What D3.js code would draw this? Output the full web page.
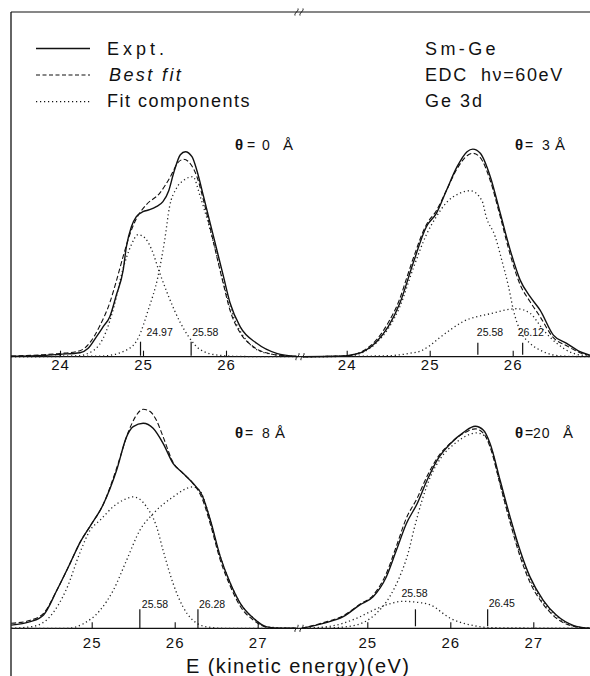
<!DOCTYPE html>
<html>
<head>
    <title>Sm-Ge Ge 3d EDC</title>
    <script type="text/javascript" src="https://cdn.jsdelivr.net/npm/d3@7"></script>
    <meta charset="utf-8" />
    <style>
        body { margin: 0; background: #fff; }
        text { font-family: "Liberation Sans", Arial, sans-serif; fill: #111; }
    </style>
</head>
<body>
    <svg width="590" height="676"></svg>
    <script>

        // curves: [kinetic energy (eV), intensity (arb.)]
        var expt0 = [[23.41,0.2],[23.8,0.6],[24.0,1.2],[24.24,2],[24.34,4.2],[24.44,10],[24.52,15],[24.6,20],[24.68,31],[24.76,43],[24.8,55],[24.86,65],[24.92,70],[25.0,72.5],[25.08,73.5],[25.16,75],[25.24,77.5],[25.31,83],[25.37,92],[25.45,101],[25.51,102.5],[25.59,100],[25.65,93],[25.73,80],[25.85,60],[25.97,40],[26.05,26.7],[26.17,15],[26.37,6.7],[26.61,1.7],[26.85,0.2]];
        var fit0 = [[23.41,0.3],[23.8,1],[24.0,1.6],[24.24,3],[24.36,7],[24.48,15.5],[24.6,27],[24.68,38],[24.76,50],[24.84,61],[24.92,69],[25.04,76],[25.2,81.7],[25.33,90],[25.42,97],[25.49,98.7],[25.56,97],[25.65,90],[25.73,78],[25.85,57],[25.97,36],[26.05,23],[26.17,12],[26.33,5],[26.55,1.3],[26.85,0.1]];
        var peakA0 = [[23.41,0],[24.2,0.4],[24.4,3],[24.55,12],[24.65,25],[24.76,44],[24.86,56],[24.94,61],[25.02,59.5],[25.1,54],[25.2,42],[25.3,31],[25.45,17],[25.55,10],[25.69,3.5],[25.9,0.8],[26.2,0.1],[26.85,0]];
        var peakB0 = [[23.41,0],[24.5,0.3],[24.8,3.3],[24.95,10],[25.06,23],[25.18,40],[25.26,58],[25.32,75],[25.4,84],[25.5,88.5],[25.6,90],[25.69,80],[25.85,57],[25.97,37],[26.09,20],[26.25,8],[26.49,1.7],[26.85,0]];

        var expt3 = [[23.47,0],[23.9,0.2],[24.0,0.5],[24.2,2.5],[24.36,7.5],[24.5,15],[24.64,26.7],[24.8,46.7],[24.96,65],[25.08,71.7],[25.2,83],[25.33,95],[25.45,102.5],[25.52,103.8],[25.61,101.7],[25.73,90],[25.85,71.7],[25.97,53.3],[26.09,38.3],[26.21,30],[26.33,23.3],[26.49,10.8],[26.65,6.7],[26.81,2.5],[26.93,0.8]];
        var fit3 = [[23.47,0],[24.0,0.5],[24.2,3],[24.36,8.5],[24.5,17],[24.64,29],[24.72,39],[24.8,49],[24.96,66],[25.08,73],[25.2,83],[25.33,94],[25.45,100.5],[25.52,101.7],[25.61,99.5],[25.73,88],[25.85,70],[25.97,51],[26.09,36],[26.21,27.5],[26.33,20],[26.49,9.5],[26.65,5.5],[26.81,2],[26.93,0.6]];
        var peakA3 = [[23.47,0],[24.0,0.3],[24.2,2.3],[24.36,7],[24.5,14],[24.64,25],[24.8,44],[24.96,61],[25.08,70],[25.2,77],[25.35,81.5],[25.49,83],[25.63,78],[25.68,70],[25.79,60],[25.87,48],[25.95,35],[26.01,23],[26.09,13],[26.21,6.7],[26.37,2.5],[26.6,0.3],[26.93,0]];
        var peakB3 = [[23.47,0],[24.5,0.5],[24.76,1.7],[24.9,3],[25.0,5.5],[25.12,9.5],[25.25,13.5],[25.4,17.5],[25.73,21.5],[26.05,24],[26.21,21.7],[26.37,13.3],[26.53,6.7],[26.73,1.7],[26.93,0.3]];

        var expt8 = [[24.03,1.6],[24.26,3.3],[24.42,6.7],[24.58,19],[24.74,32.5],[24.86,43],[24.98,51],[25.14,62],[25.3,79],[25.42,95.7],[25.5,100.8],[25.62,102.5],[25.74,100],[25.86,92.5],[25.98,82.5],[26.1,77.5],[26.22,72.5],[26.33,66.5],[26.43,54],[26.55,35.7],[26.67,22.5],[26.79,12.5],[26.95,5],[27.11,0.7],[27.27,0],[27.46,0]];
        var fit8 = [[24.03,2.5],[24.26,4],[24.42,7.5],[24.58,19],[24.74,32.5],[24.86,43],[24.98,51],[25.14,62],[25.3,80],[25.44,98],[25.53,106],[25.62,109.5],[25.7,108.5],[25.78,104],[25.86,95.8],[25.98,83],[26.1,77.5],[26.22,72.5],[26.33,65],[26.43,52],[26.55,34],[26.67,21],[26.79,11],[26.95,4],[27.11,0.5],[27.27,0],[27.46,0]];
        var peakA8 = [[24.03,0],[24.3,1],[24.5,6],[24.7,20],[24.86,38],[24.98,49],[25.1,54],[25.26,60.8],[25.4,64.5],[25.5,65.7],[25.58,64.5],[25.66,60.8],[25.78,51],[25.86,39],[25.98,22.5],[26.1,10.7],[26.22,4],[26.39,0.7],[26.6,0],[27.46,0]];
        var peakB8 = [[24.03,0],[24.7,0],[24.9,2.3],[25.1,9],[25.26,19],[25.42,34],[25.58,49],[25.74,57.3],[25.98,65.7],[26.22,70.7],[26.3,69],[26.43,54],[26.55,35.7],[26.67,22.5],[26.79,12.5],[26.95,5],[27.11,0.7],[27.46,0]];

        var expt20 = [[24.21,0],[24.47,2.5],[24.71,5.8],[24.91,11.7],[25.07,15.8],[25.23,25.8],[25.35,39],[25.47,52.3],[25.6,62.3],[25.72,74],[25.84,84],[26.0,92.3],[26.16,98],[26.3,101],[26.4,99],[26.48,92.3],[26.6,74],[26.72,55.7],[26.84,39],[26.96,25.7],[27.12,14],[27.28,6.5],[27.48,1.5],[27.68,0]];
        var fit20 = [[24.21,0],[24.47,2.8],[24.71,6.3],[24.91,12],[25.07,16.5],[25.23,27.5],[25.35,41],[25.47,55],[25.6,65],[25.72,76],[25.84,85],[26.0,92.5],[26.16,97.5],[26.3,99.7],[26.4,97.5],[26.48,90.5],[26.6,72],[26.72,53],[26.84,36],[26.96,23],[27.12,12],[27.28,5],[27.48,1],[27.68,0]];
        var peakA20 = [[24.21,0],[24.6,0.3],[24.87,1.7],[25.11,7.5],[25.27,15.8],[25.39,25.8],[25.49,37.3],[25.57,50.7],[25.66,64],[25.76,75.7],[25.88,84.8],[26.08,93.2],[26.32,97.7],[26.42,96],[26.5,89],[26.6,72],[26.72,54],[26.84,37.5],[26.96,24.5],[27.12,13],[27.28,6],[27.48,1.2],[27.68,0]];
        var peakB20 = [[24.21,0],[24.55,1],[24.87,5],[25.07,9],[25.25,12],[25.43,13.5],[25.6,13],[25.76,11.7],[26.0,5],[26.24,1.7],[26.5,0.3],[27.68,0]];

        var thetas = ["0", "3", "8", "20"];
        var ticksTop = [24, 25, 26];
        var ticksBottom = [25, 26, 27];
        var peaks0 = [24.97, 25.58];
        var peaks3 = [25.58, 26.12];
        var peaks8 = [25.58, 26.28];
        var peaks20 = [25.58, 26.45];

        var svg = d3.select("svg");

        // layout of the four panels (pixel positions only)
        var panels = [
            { theta: thetas[0], expt: expt0, fit: fit0, comps: [peakA0, peakB0], ticks: ticksTop, peaks: peaks0,
              clip: [11, 297], e: [24, 26], px: [60, 226], base: 356.7, pad: 2.5, mark: [-15, -1],
              lab: [[6, -21], [1, -21]], th: [235, 12, 27, 48, 150] },
            { theta: thetas[1], expt: expt3, fit: fit3, comps: [peakA3, peakB3], ticks: ticksTop, peaks: peaks3,
              clip: [303, 590], e: [24, 26], px: [346.7, 512.7], base: 356.7, pad: 2.5, mark: [-14, -2],
              lab: [[-1, -21], [-5, -21]], th: [515, 10, 27, 40, 150] },
            { theta: thetas[2], expt: expt8, fit: fit8, comps: [peakA8, peakB8], ticks: ticksBottom, peaks: peaks8,
              clip: [11, 296], e: [25, 27], px: [91.7, 257.7], base: 628.3, pad: 9.5, mark: [-19, 0],
              lab: [[2, -20], [1, -20]], th: [235, 10, 27, 40, 438] },
            { theta: thetas[3], expt: expt20, fit: fit20, comps: [peakA20, peakB20], ticks: ticksBottom, peaks: peaks20,
              clip: [302, 590], e: [25, 27], px: [367.3, 533.3], base: 628.3, pad: 9.5, mark: [-19, -2],
              lab: [[-14, -31], [1, -21]], th: [515, 10, 18, 48, 438] }
        ];

        // frame
        svg.append("line").attr("x1", 11).attr("y1", 12).attr("x2", 11).attr("y2", 676)
            .attr("stroke", "#111").attr("stroke-width", 1.3);
        svg.append("line").attr("x1", 11).attr("y1", 12).attr("x2", 590).attr("y2", 12)
            .attr("stroke", "#111").attr("stroke-width", 1.1);
        [356.7, 628.3].forEach(function (y) {
            svg.append("line").attr("x1", 11).attr("y1", y).attr("x2", 590).attr("y2", y)
                .attr("stroke", "#111").attr("stroke-width", 1.2);
        });

        // axis break marks
        function breakMark(cx, cy) {
            [-2.5, 2.5].forEach(function (dx) {
                var x = cx + dx;
                svg.append("path")
                    .attr("d", "M" + (x - 1.5) + "," + (cy + 3.5) + " C" + (x - 2.5) + "," + (cy + 1) + " " + (x + 2.5) + "," + (cy - 1) + " " + (x + 1.5) + "," + (cy - 3.5))
                    .attr("fill", "none").attr("stroke", "#111").attr("stroke-width", 1);
            });
        }
        breakMark(299, 12);
        breakMark(300, 356.7);
        breakMark(299, 628.3);

        panels.forEach(function (p, i) {
            var x = d3.scaleLinear().domain(p.e).range(p.px);
            var y = d3.scaleLinear().domain([0, 100]).range([p.base, p.base - 200]);

            svg.append("clipPath").attr("id", "clip" + i)
                .append("rect").attr("x", p.clip[0]).attr("y", 12)
                .attr("width", p.clip[1] - p.clip[0]).attr("height", p.base - 10);

            var g = svg.append("g").attr("clip-path", "url(#clip" + i + ")");

            var line = d3.line()
                .x(function (d) { return x(d[0]); })
                .y(function (d) { return y(d[1]); })
                .curve(d3.curveMonotoneX);

            g.selectAll("path.comp")
                .data(p.comps)
                .enter()
                .append("path")
                .attr("class", "comp")
                .attr("d", line)
                .attr("fill", "none")
                .attr("stroke", "#222")
                .attr("stroke-width", 1.3)
                .attr("stroke-dasharray", "1.2,2.8");

            g.append("path").datum(p.fit)
                .attr("d", line)
                .attr("fill", "none")
                .attr("stroke", "#111")
                .attr("stroke-width", 1.1)
                .attr("stroke-dasharray", "5,2.5");

            g.append("path").datum(p.expt)
                .attr("d", line)
                .attr("fill", "none")
                .attr("stroke", "#111")
                .attr("stroke-width", 1.4);

            // energy axis: ticks point up, numbers below
            var axis = svg.append("g")
                .attr("transform", "translate(0," + p.base + ")")
                .call(d3.axisBottom(x).tickValues(p.ticks).tickSize(-6).tickPadding(p.pad).tickFormat(d3.format("d")));
            axis.select(".domain").remove();
            axis.selectAll("line").attr("stroke", "#111").attr("stroke-width", 1.1);
            axis.selectAll("text")
                .attr("font-size", 15)
                .attr("letter-spacing", 1)
                .attr("fill", "#111")
                .style("font-family", "'Liberation Sans', Arial, sans-serif");

            // fitted peak positions
            svg.selectAll(null)
                .data(p.peaks)
                .enter()
                .append("line")
                .attr("x1", function (d) { return x(d); })
                .attr("x2", function (d) { return x(d); })
                .attr("y1", p.base + p.mark[0])
                .attr("y2", p.base + p.mark[1])
                .attr("stroke", "#111")
                .attr("stroke-width", 1.2);

            svg.selectAll(null)
                .data(p.peaks)
                .enter()
                .append("text")
                .attr("x", function (d, j) { return x(d) + p.lab[j][0]; })
                .attr("y", function (d, j) { return p.base + p.lab[j][1]; })
                .attr("font-size", 10.5)
                .text(function (d) { return d3.format(".2f")(d); });

            // theta label
            var t = svg.append("text").attr("y", p.th[4]).attr("font-size", 14);
            t.append("tspan").attr("x", p.th[0]).attr("font-weight", "bold").attr("font-size", 15).text("θ");
            t.append("tspan").attr("x", p.th[0] + p.th[1]).text("=");
            t.append("tspan").attr("x", p.th[0] + p.th[2]).attr("letter-spacing", 1).text(p.theta);
            t.append("tspan").attr("x", p.th[0] + p.th[3]).attr("font-size", 15).text("Å");
        });

        // legend
        var legend = [
            { label: "Expt.", dash: null, w: 1.4, ty: 55, ly: 48.5, sp: 4, tx: 107, italic: false },
            { label: "Best fit", dash: "4,2.5", w: 1.1, ty: 80.5, ly: 75, sp: 2.4, tx: 109, italic: true },
            { label: "Fit components", dash: "1.2,2.8", w: 1.3, ty: 107, ly: 101.7, sp: 1.5, tx: 107, italic: false }
        ];
        legend.forEach(function (d) {
            svg.append("line").attr("x1", 36).attr("x2", 90).attr("y1", d.ly).attr("y2", d.ly)
                .attr("stroke", "#111").attr("stroke-width", d.w)
                .attr("stroke-dasharray", d.dash);
            svg.append("text").attr("x", d.tx).attr("y", d.ty)
                .attr("font-size", 18).attr("letter-spacing", d.sp)
                .attr("font-style", d.italic ? "italic" : "normal")
                .text(d.label);
        });

        // sample annotation
        var notes = [["Sm-Ge", 55, 3.4], ["EDC  hν=60eV", 80.5, 1.6], ["Ge 3d", 107, 2]];
        notes.forEach(function (n) {
            svg.append("text").attr("x", 425).attr("y", n[1])
                .attr("font-size", 18).attr("letter-spacing", n[2])
                .style("white-space", "pre")
                .text(n[0]);
        });

        svg.append("text").attr("x", 186).attr("y", 673)
            .attr("font-size", 20).attr("letter-spacing", 1.4)
            .text("E (kinetic energy)(eV)");

    </script>
</body>
</html>
